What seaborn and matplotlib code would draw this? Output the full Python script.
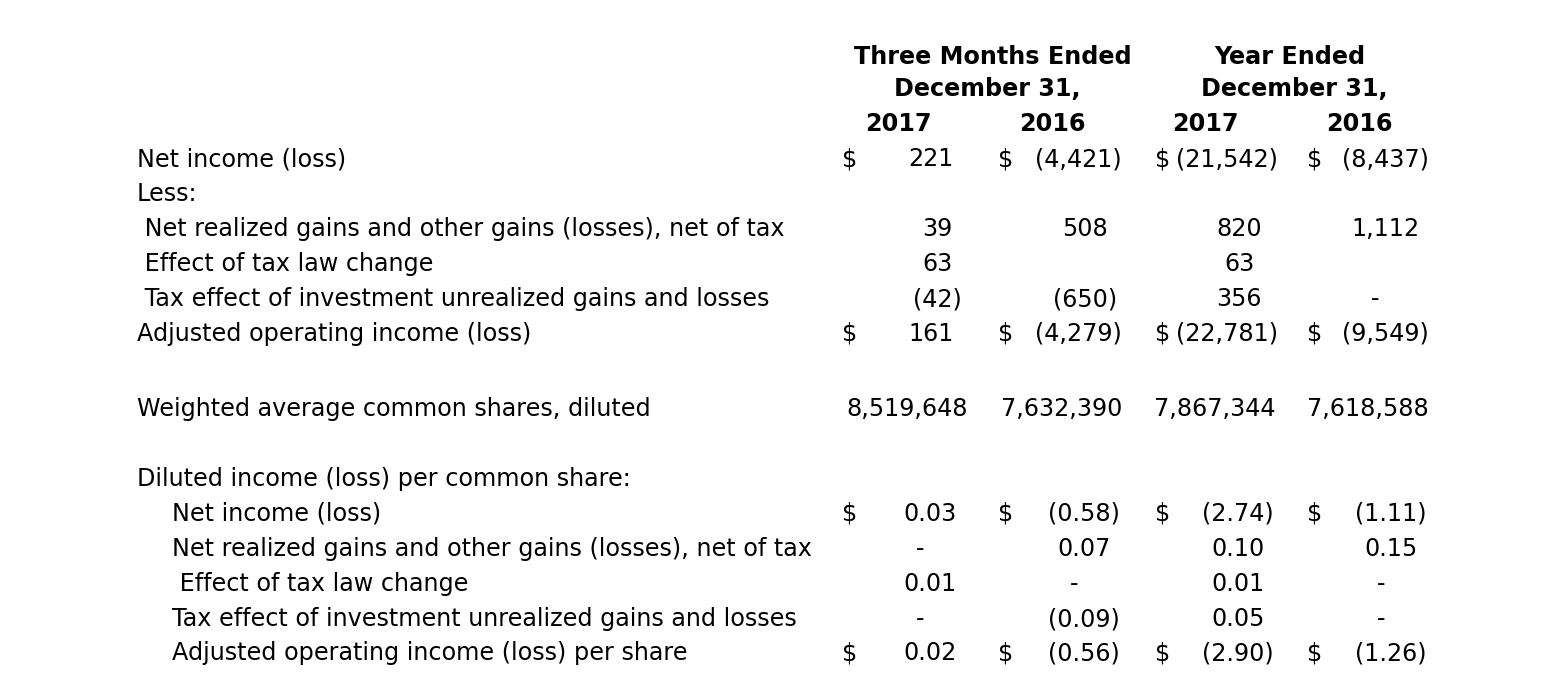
import matplotlib
matplotlib.use("Agg")
import matplotlib.pyplot as plt
import seaborn as sns

# Row labels and the four value columns (None = blank cell, 0 = dash)
labels = [
    "Net income (loss)",
    "Less:",
    " Net realized gains and other gains (losses), net of tax",
    " Effect of tax law change",
    " Tax effect of investment unrealized gains and losses",
    "Adjusted operating income (loss)",
    "Weighted average common shares, diluted",
    "Diluted income (loss) per common share:",
    "Net income (loss)",
    "Net realized gains and other gains (losses), net of tax",
    " Effect of tax law change",
    "Tax effect of investment unrealized gains and losses",
    "Adjusted operating income (loss) per share",
]
q4_2017 = [221, None, 39, 63, -42, 161, 8519648, None, 0.03, 0, 0.01, 0, 0.02]
q4_2016 = [-4421, None, 508, None, -650, -4279, 7632390, None, -0.58, 0.07, 0, -0.09, -0.56]
fy_2017 = [-21542, None, 820, 63, 356, -22781, 7867344, None, -2.74, 0.10, 0.01, 0.05, -2.90]
fy_2016 = [-8437, None, 1112, None, 0, -9549, 7618588, None, -1.11, 0.15, 0, 0, -1.26]
dollar_rows = [0, 5, 8, 12]
decimals = [0, 0, 0, 0, 0, 0, 0, 0, 2, 2, 2, 2, 2]

group_titles = [("Three Months Ended", "December 31,"), ("Year Ended", "December 31,")]
years = ["2017", "2016", "2017", "2016"]

# layout (pixels)
W, H = 1551, 699
FS = 17.2
row_y = [159, 194, 229, 264, 299, 334, 409, 479, 514, 549, 584, 619, 653]
label_x = [137, 137, 137, 137, 137, 137, 137, 137, 172, 172, 172, 172, 172]
dollar_x = [842, 998, 1155, 1307]
right_a = [962, 1122, 1278, 1429]
center_a = [937, 1085, 1239, 1385]
right_shares = [968, 1122, 1276, 1429]
center_c = [930, 1084, 1238, 1391]
paren_pad = 8
dash_shift = 10


def fmt(v, d):
    if v == 0:
        return "-"
    s = f"{abs(v):,.{d}f}"
    return f"({s})" if v < 0 else s


sns.set_theme(style="white")
plt.rcParams["font.family"] = ["DejaVu Sans"]
plt.rcParams["text.color"] = "black"

fig = plt.figure(figsize=(W / 100, H / 100), dpi=100)
ax = fig.add_axes([0, 0, 1, 1])
ax.set_xlim(0, W)
ax.set_ylim(H, 0)
ax.axis("off")

# headers
for (t1, t2), cx1, cx2 in zip(group_titles, [993, 1290], [987, 1294]):
    ax.text(cx1, 57, t1, ha="center", va="center", fontsize=FS, fontweight="bold")
    ax.text(cx2, 89, t2, ha="center", va="center", fontsize=FS, fontweight="bold")
for yr, cx in zip(years, [898, 1052, 1205, 1359]):
    ax.text(cx, 124, yr, ha="center", va="center", fontsize=FS, fontweight="bold")

columns = [q4_2017, q4_2016, fy_2017, fy_2016]
for i, lab in enumerate(labels):
    y = row_y[i]
    ax.text(label_x[i], y, lab, ha="left", va="center", fontsize=FS)
    for j, col in enumerate(columns):
        v = col[i]
        if v is None:
            continue
        s = fmt(v, decimals[i])
        if i in dollar_rows:
            ax.text(dollar_x[j], y, "$", ha="left", va="center", fontsize=FS)
        if i == 6:
            ax.text(right_shares[j], y, s, ha="right", va="center", fontsize=FS)
        elif i <= 5 and i in dollar_rows:
            x = right_a[j] - (paren_pad if v > 0 else 0)
            ax.text(x, y, s, ha="right", va="center", fontsize=FS)
        else:
            cx = center_a[j] if i <= 5 else center_c[j]
            if s == "-":
                cx -= dash_shift
            ax.text(cx, y, s, ha="center", va="center", fontsize=FS)

fig.savefig("out.png", dpi=100, facecolor="white")
